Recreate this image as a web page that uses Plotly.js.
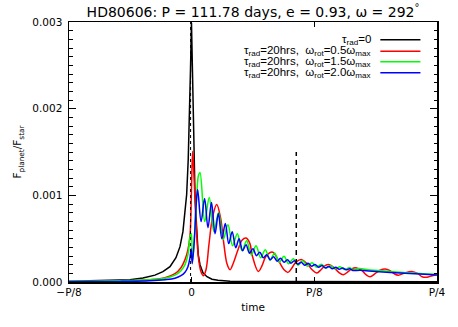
<!DOCTYPE html>
<html>
<head>
<meta charset="utf-8">
<script src="https://cdn.plot.ly/plotly-3.0.1.min.js"></script>
<style>
  html, body { margin: 0; padding: 0; background: #fff; }
  #chart { width: 458px; height: 327px; }
</style>
</head>
<body>
<div id="chart"></div>
<script>
// time in units of the orbital period P, flux ratio Fplanet/Fstar

var xTickVals = [-0.125, 0, 0.125, 0.25];
var xTickText = ['\u2212P/8', '0', 'P/8', 'P/4'];

var seriesNames = [
  '\u03c4<sub>rad</sub>=0',
  '\u03c4<sub>rad</sub>=20hrs,  \u03c9<sub>rot</sub>=0.5\u03c9<sub>max</sub>',
  '\u03c4<sub>rad</sub>=20hrs,  \u03c9<sub>rot</sub>=1.5\u03c9<sub>max</sub>',
  '\u03c4<sub>rad</sub>=20hrs,  \u03c9<sub>rot</sub>=2.0\u03c9<sub>max</sub>'
];
var seriesColors = ['#000000', '#ff0000', '#00ff00', '#0000ff'];

// tau_rad = 0
var blackT = [-0.125, -0.0935, -0.0629, -0.0497, -0.0374, -0.0293, -0.0221, -0.0160, -0.0119, -0.0089,
  -0.0068, -0.0051, -0.0035, -0.0022, -0.0012, -0.0002, 0.0008, 0.0016, 0.0023, 0.0034,
  0.0049, 0.0067, 0.0085, 0.0115, 0.0156, 0.0207, 0.0268, 0.0391, 0.0697, 0.14, 0.25];
var blackF = [0.00001, 0.000015, 0.000027, 0.000046, 0.000079, 0.000119, 0.000177, 0.000281, 0.000408, 0.000581,
  0.000789, 0.001009, 0.001413, 0.001876, 0.002453, 0.00299, 0.00245, 0.00188, 0.00141, 0.00101,
  0.00066, 0.000315, 0.0002, 0.000107, 0.000061, 0.000032, 0.000021, 0.00001, 0.000005, 0.000003, 0.000002];

// omega_rot = 0.5 omega_max
var redT = [-0.125, -0.0731, -0.0425, -0.0272, -0.0170, -0.0109, -0.0068, -0.0038, -0.0017, -0.0002,
  0.0010, 0.0023, 0.0044, 0.0069, 0.0095, 0.0120, 0.0146, 0.0176, 0.0212, 0.0255,
  0.0294, 0.0329, 0.0360, 0.0391, 0.0426, 0.0472, 0.0513, 0.0554, 0.0594, 0.0615,
  0.0679, 0.0717, 0.0758, 0.0826, 0.0890, 0.0941, 0.0982, 0.1023, 0.1063, 0.1122,
  0.1176, 0.1227, 0.1275, 0.1318, 0.1359, 0.1403, 0.1451, 0.1502, 0.1546, 0.1594,
  0.1634, 0.1682, 0.1736, 0.1777, 0.1818, 0.1869, 0.1920, 0.1971, 0.2022, 0.2063,
  0.2107, 0.2165, 0.2243, 0.2307, 0.2348, 0.2396, 0.2450, 0.25];
var redF = [0.000006, 0.000012, 0.000027, 0.00005, 0.000096, 0.000165, 0.000258, 0.000373, 0.000535, 0.001067,
  0.001509, 0.00124, 0.000697, 0.000281, 0.000119, 0.000073, 0.000142, 0.000431, 0.000743, 0.000893,
  0.000743, 0.000431, 0.000211, 0.000142, 0.000223, 0.000373, 0.000483, 0.000508, 0.000443, 0.000315,
  0.000122, 0.000188, 0.000298, 0.000344, 0.000235, 0.000142, 0.000111, 0.000165, 0.000229, 0.000258,
  0.000211, 0.000142, 0.000104, 0.000142, 0.000188, 0.0002, 0.000165, 0.000107, 0.000084, 0.000119,
  0.000154, 0.000162, 0.000131, 0.000084, 0.000061, 0.000096, 0.000136, 0.00015, 0.000131, 0.000096,
  0.000079, 0.000102, 0.000122, 0.000096, 0.000061, 0.000055, 0.000073, 0.000084];

// omega_rot = 1.5 omega_max
var greenT = [-0.125, -0.0731, -0.0425, -0.0272, -0.0170, -0.0109, -0.0068, -0.0038, -0.0014, -0.0004,
  0.0008, 0.0029, 0.0052, 0.0069, 0.0085, 0.0133, 0.0179, 0.0227, 0.0274, 0.0322,
  0.0370, 0.0417, 0.0465, 0.0513, 0.0560, 0.0608, 0.0656, 0.0703, 0.0750, 0.0798,
  0.0845, 0.0893, 0.0941, 0.0988, 0.1036, 0.1084, 0.1131, 0.1179, 0.1227, 0.1273,
  0.1321, 0.1369, 0.1416, 0.1464, 0.1512, 0.1559, 0.1607, 0.1655, 0.1702, 0.1818,
  0.1971, 0.2124, 0.2328, 0.25];
var greenF = [0.000008, 0.000015, 0.000027, 0.000044, 0.000079, 0.000131, 0.0002, 0.000315, 0.000535, 0.000558,
  0.000235, 0.000547, 0.000997, 0.001228, 0.001263, 0.000697, 0.000974, 0.000581, 0.000801, 0.000489,
  0.000662, 0.000419, 0.000558, 0.000362, 0.000477, 0.000315, 0.000419, 0.000281, 0.000373, 0.000252,
  0.000333, 0.000229, 0.000298, 0.000211, 0.000269, 0.000194, 0.000246, 0.000183, 0.000223, 0.000171,
  0.000206, 0.000162, 0.000188, 0.000154, 0.000177, 0.000144, 0.000165, 0.000139, 0.000156, 0.000139,
  0.000127, 0.000113, 0.000098, 0.000088];

// omega_rot = 2.0 omega_max
var blueT = [-0.125, -0.0731, -0.0425, -0.0272, -0.0170, -0.0109, -0.0068, -0.0038, -0.0017, -0.0005,
  0.0006, 0.0029, 0.0044, 0.0061, 0.0096, 0.0132, 0.0166, 0.0202, 0.0238, 0.0272,
  0.0308, 0.0343, 0.0378, 0.0413, 0.0449, 0.0483, 0.0519, 0.0554, 0.0589, 0.0624,
  0.0660, 0.0694, 0.0730, 0.0765, 0.0800, 0.0835, 0.0871, 0.0905, 0.0941, 0.0976,
  0.1011, 0.1046, 0.1082, 0.1116, 0.1152, 0.1187, 0.1222, 0.1257, 0.1293, 0.1328,
  0.1363, 0.1398, 0.1434, 0.1468, 0.1504, 0.1539, 0.1574, 0.1609, 0.1645, 0.1716,
  0.1869, 0.2022, 0.2175, 0.2328, 0.25];
var blueF = [0.000003, 0.000007, 0.000015, 0.000027, 0.000044, 0.000073, 0.000113, 0.000177, 0.000281, 0.000385,
  0.000211, 0.000512, 0.000859, 0.001067, 0.000697, 0.000963, 0.000627, 0.000916, 0.000558, 0.000789,
  0.0005, 0.000674, 0.000443, 0.000581, 0.000396, 0.0005, 0.000362, 0.000431, 0.000333, 0.000385,
  0.000304, 0.000344, 0.000281, 0.000315, 0.000258, 0.000292, 0.00024, 0.000275, 0.000229, 0.000258,
  0.000217, 0.000246, 0.000206, 0.000229, 0.000194, 0.000217, 0.000183, 0.000202, 0.000171, 0.000191,
  0.000162, 0.000179, 0.000154, 0.000169, 0.000147, 0.000161, 0.00014, 0.000153, 0.000133, 0.000135,
  0.000121, 0.00011, 0.000101, 0.000091, 0.000082];

// reference lines: eclipse (dotted) and marker (dashed)
var eclipseT = [-0.0011, -0.0011];
var eclipseF = [0, 0.003];
var markT = [0.1066, 0.1066];
var markF = [0, 0.0015];

var allT = [blackT, redT, greenT, blueT];
var allF = [blackF, redF, greenF, blueF];

var data = [];
for (var i = 0; i < allT.length; i++) {
  data.push({
    x: allT[i],
    y: allF[i],
    type: 'scatter',
    mode: 'lines',
    name: seriesNames[i],
    line: {color: seriesColors[i], width: 1.5, shape: i == 0 ? 'linear' : 'spline', smoothing: 1}
  });
}
data.push({x: eclipseT, y: eclipseF, type: 'scatter', mode: 'lines',
  line: {color: '#000', width: 1, dash: 'dot'}});
data.push({x: markT, y: markF, type: 'scatter', mode: 'lines',
  line: {color: '#000', width: 1.5, dash: '5px,4px'}});

// hand-made legend: text right-aligned, line sample on the right
var legendY = [0.932, 0.8876, 0.8468, 0.8045];
var annotations = [];
var shapes = [];
for (var j = 0; j < seriesNames.length; j++) {
  annotations.push({
    text: seriesNames[j], xref: 'paper', yref: 'paper', x: 0.823, y: legendY[j],
    xanchor: 'right', yanchor: 'middle', showarrow: false, borderpad: 0,
    font: {family: 'Liberation Sans, Arial, sans-serif', size: 11.5, color: '#000'}
  });
  shapes.push({
    type: 'line', xref: 'paper', yref: 'paper', x0: 0.846, x1: 0.955, y0: legendY[j], y1: legendY[j],
    line: {color: seriesColors[j], width: 1.5}
  });
}

var axisFont = {family: 'DejaVu Sans, sans-serif', size: 10.5, color: '#000'};

var layout = {
  width: 458,
  height: 327,
  margin: {l: 69, r: 21, t: 22, b: 45},
  paper_bgcolor: '#fff',
  plot_bgcolor: '#fff',
  showlegend: false,
  font: axisFont,
  title: {
    text: 'HD80606: P = 111.78 days, e = 0.93, \u03c9 = 292<sup>\u00b0</sup>',
    font: {family: 'DejaVu Sans, sans-serif', size: 14, color: '#000'},
    xref: 'paper', x: 0.5, xanchor: 'center',
    yref: 'container', y: 0.963, yanchor: 'middle'
  },
  xaxis: {
    range: [-0.125, 0.25],
    tickvals: xTickVals,
    ticktext: xTickText,
    ticks: 'inside', ticklen: 5, tickcolor: '#000',
    showline: true, linecolor: '#000', linewidth: 1.5, mirror: 'ticks',
    showgrid: false, zeroline: false,
    tickfont: axisFont,
    title: {text: 'time', font: axisFont, standoff: 6}
  },
  yaxis: {
    range: [0, 0.003],
    dtick: 0.001, tick0: 0,
    tickformat: '.3f',
    ticks: 'inside', ticklen: 7, tickcolor: '#000',
    minor: {dtick: 0.0001, ticks: 'inside', ticklen: 3.5, tickcolor: '#000'},
    showline: true, linecolor: '#000', linewidth: 1.5, mirror: 'ticks',
    showgrid: false, zeroline: false,
    tickfont: axisFont,
    ticklabelstandoff: 3,
    title: {text: 'F<sub>planet</sub>/F<sub>star</sub>', font: axisFont, standoff: 8}
  },
  annotations: annotations,
  shapes: shapes
};

Plotly.newPlot('chart', data, layout, {displayModeBar: false, staticPlot: true});
</script>
</body>
</html>
